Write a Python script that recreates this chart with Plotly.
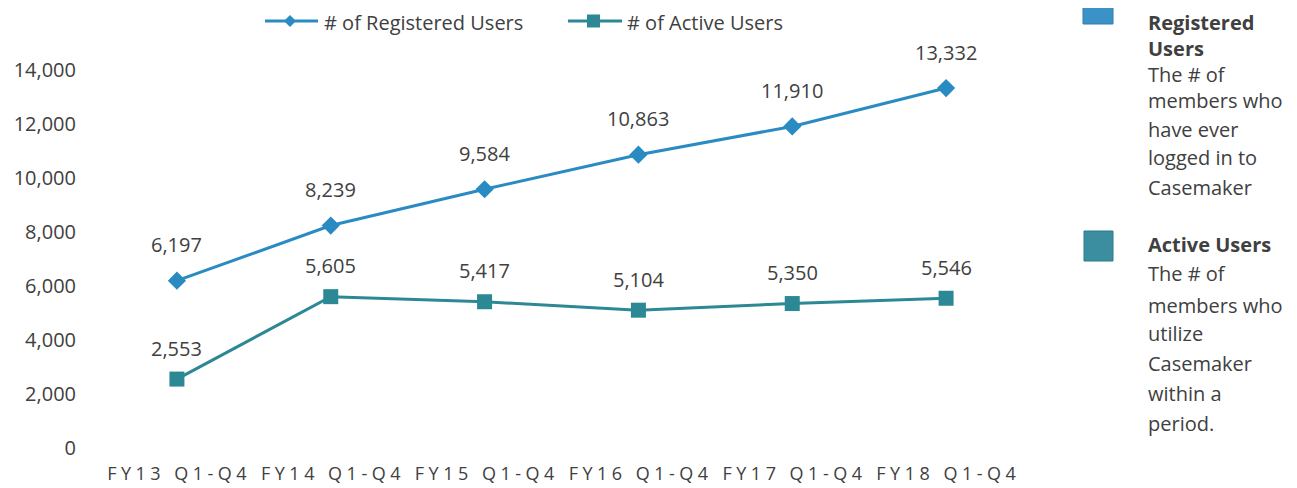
import plotly.graph_objects as go

periods = ["FY13 Q1-Q4", "FY14 Q1-Q4", "FY15 Q1-Q4", "FY16 Q1-Q4", "FY17 Q1-Q4", "FY18 Q1-Q4"]
registered = [6197, 8239, 9584, 10863, 11910, 13332]
active = [2553, 5605, 5417, 5104, 5350, 5546]
y_ticks = [0, 2000, 4000, 6000, 8000, 10000, 12000, 14000]
series_names = ["# of Registered Users", "# of Active Users"]

reg_notes = ["<b>Registered</b>", "<b>Users</b>", "The # of", "members who", "have ever", "logged in to", "Casemaker"]
act_notes = ["<b>Active Users</b>", "The # of", "members who", "utilize", "Casemaker", "within a", "period."]

blue = "#2a8bc3"
teal = "#2c8894"
font = "Open Sans"
grey = "#404040"

# the x tick labels in the source are letter-spaced
spaced = ["\u2005\u00a0\u2005".join("\u2005".join(w) for w in p.split(" ")) for p in periods]

fig = go.Figure()

fig.add_trace(go.Scatter(
    x=periods, y=registered, name=series_names[0],
    mode="lines+markers",
    line=dict(color=blue, width=3),
    marker=dict(symbol="diamond", size=14, color=blue),
))

fig.add_trace(go.Scatter(
    x=periods, y=active, name=series_names[1],
    mode="lines+markers",
    line=dict(color=teal, width=3),
    marker=dict(symbol="square", size=15, color=teal),
))

# page has an 8px body margin, so the figure is drawn 8px right/down
# pixel helpers below take page pixels (plot area 100..1023 x, 8..448 y)
def px(p):
    return (p - 100) / 923

def py(p):
    return (448 - p) / 440

annotations = []
for x, v in zip(periods, registered):
    annotations.append(dict(x=x, y=v, text=f"{v:,}", showarrow=False, yshift=36,
                            font=dict(size=20, color=grey, family=font)))
for x, v in zip(periods, active):
    annotations.append(dict(x=x, y=v, text=f"{v:,}", showarrow=False, yshift=31,
                            font=dict(size=20, color=grey, family=font)))

reg_y = [23, 49, 75, 101, 129, 157, 187]
act_y = [245, 273, 305, 333, 363, 393, 423]
for t, yy in zip(reg_notes, reg_y):
    annotations.append(dict(x=px(1146), y=py(yy), xref="paper", yref="paper",
                            text=t, showarrow=False, xanchor="left", yanchor="middle",
                            font=dict(size=20, color=grey, family=font)))
for t, yy in zip(act_notes, act_y):
    annotations.append(dict(x=px(1146), y=py(yy), xref="paper", yref="paper",
                            text=t, showarrow=False, xanchor="left", yanchor="middle",
                            font=dict(size=20, color=grey, family=font)))

# legend drawn by hand (plotly's legend would push the top margin)
annotations.append(dict(x=px(322), y=py(23), xref="paper", yref="paper", text=series_names[0],
                        showarrow=False, xanchor="left", yanchor="middle",
                        font=dict(size=20, color=grey, family=font)))
annotations.append(dict(x=px(625), y=py(23), xref="paper", yref="paper", text=series_names[1],
                        showarrow=False, xanchor="left", yanchor="middle",
                        font=dict(size=20, color=grey, family=font)))

d = 6
ly = 21
diamond = (f"M {px(290 - d)} {py(ly)} L {px(290)} {py(ly - d)} L {px(290 + d)} {py(ly)} "
           f"L {px(290)} {py(ly + d)} Z")

shapes = [
    dict(type="rect", xref="paper", yref="paper", x0=px(1083), x1=px(1113), y0=py(-6), y1=py(24),
         fillcolor="#3a92c6", line=dict(color="#2f7fae", width=1)),
    dict(type="rect", xref="paper", yref="paper", x0=px(1084), x1=px(1113), y0=py(231), y1=py(261),
         fillcolor="#3a8ea0", line=dict(color="#2f7a88", width=1)),
    dict(type="line", xref="paper", yref="paper", x0=px(265), x1=px(318), y0=py(ly), y1=py(ly),
         line=dict(color=blue, width=3)),
    dict(type="path", xref="paper", yref="paper", path=diamond, fillcolor=blue, line=dict(width=0)),
    dict(type="line", xref="paper", yref="paper", x0=px(568), x1=px(622), y0=py(ly), y1=py(ly),
         line=dict(color=teal, width=3)),
    dict(type="rect", xref="paper", yref="paper", x0=px(587), x1=px(600), y0=py(ly + 6.5),
         y1=py(ly - 6.5), fillcolor=teal, line=dict(width=0)),
]

fig.update_layout(
    width=1289, height=480,
    margin=dict(l=92, r=274, t=0, b=40),
    paper_bgcolor="white", plot_bgcolor="white",
    font=dict(family=font, size=18, color=grey),
    showlegend=False,
    xaxis=dict(range=[-0.5, 5.5], showgrid=False, showline=False, zeroline=False, automargin=False,
               tickvals=periods, ticktext=spaced,
               tickfont=dict(size=18, color=grey), ticks="", ticklabelstandoff=13),
    yaxis=dict(range=[0, 16296], tickvals=y_ticks, tickformat=",", showgrid=False,
               zeroline=False, showline=False, automargin=False,
               tickfont=dict(size=20, color=grey), ticklabelstandoff=23),
    annotations=annotations,
    shapes=shapes,
)

fig.write_html("out.html")
